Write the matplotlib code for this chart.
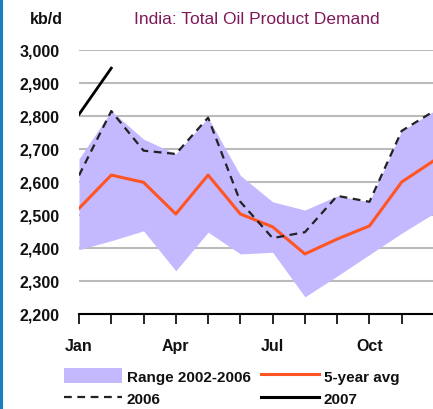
import matplotlib
matplotlib.use('Agg')
import matplotlib.pyplot as plt
from matplotlib.patches import Patch
from matplotlib.lines import Line2D
import numpy as np

# Data (kb/d)
months = ['Jan', 'Feb', 'Mar', 'Apr', 'May', 'Jun', 'Jul', 'Aug', 'Sep', 'Oct', 'Nov', 'Dec']
tick_labels = ['Jan', '', '', 'Apr', '', '', 'Jul', '', '', 'Oct', '', '']
range_low = [2395, 2422, 2452, 2331, 2448, 2382, 2387, 2252, 2315, 2380, 2445, 2505]
range_high = [2670, 2815, 2730, 2685, 2795, 2620, 2540, 2515, 2558, 2540, 2755, 2815]
avg_5yr = [2520, 2621, 2599, 2503, 2621, 2503, 2464, 2382, 2427, 2467, 2600, 2665]
y2006 = [2620, 2815, 2695, 2685, 2795, 2540, 2430, 2448, 2558, 2540, 2755, 2815]
y2007 = [2805, 2945]

plt.rcParams['font.family'] = ['Liberation Sans', 'DejaVu Sans']

fig = plt.figure(figsize=(4.33, 4.10), dpi=100)
ax = fig.add_axes([79/433, 1-315/410, (434-79)/433, (315-51)/410])

x = np.arange(len(months))
fill_col = '#c4b8ff'
avg_col = '#ff5522'

ax.fill_between(x, range_low, range_high, color=fill_col, lw=0, zorder=2)
ax.plot(x, avg_5yr, color=avg_col, lw=2.2, zorder=3)
ax.plot(x, y2006, color='#222222', lw=1.6, ls=(0, (3.5, 2.5)), zorder=4)
ax.plot(x[:len(y2007)], y2007, color='black', lw=2.0, zorder=5)

ax.set_xlim(0, 11)
ax.set_ylim(2200, 3000)
ax.set_yticks(np.arange(2200, 3001, 100))
ax.set_yticklabels(['{:,}'.format(v) for v in range(2200, 3001, 100)])
ax.set_xticks(x)
ax.set_xticklabels(tick_labels)

ax.grid(axis='y', color='#bbbbbb', lw=1.5, zorder=1)
ax.set_axisbelow(True)
for s in ['top', 'right', 'left']:
    ax.spines[s].set_visible(False)
ax.spines['bottom'].set_color('black')
ax.spines['bottom'].set_linewidth(1.5)
ax.spines['bottom'].set_zorder(6)
ax.tick_params(axis='y', length=0, pad=14, labelsize=11.5)
ax.tick_params(axis='x', direction='out', length=7, width=1.2, pad=10, labelsize=11.5)
for lbl in ax.get_xticklabels() + ax.get_yticklabels():
    lbl.set_fontweight('bold')
    lbl.set_color('#111111')

fig.text(46/433, 1-20/410, 'kb/d', ha='center', va='center', fontsize=11.5,
         fontweight='bold', color='#111111')
fig.text(257/433, 1-20/410, 'India: Total Oil Product Demand', ha='center', va='center',
         fontsize=12.5, color='#7f1a5a')

handles = [Patch(facecolor=fill_col, edgecolor='none'),
           Line2D([], [], color=avg_col, lw=2.2),
           Line2D([], [], color='#222222', lw=1.6, ls=(0, (3.5, 2.5))),
           Line2D([], [], color='black', lw=2.2)]
labels = ['Range 2002-2006', '5-year avg', '2006', '2007']
order = [0, 2, 1, 3]
leg = fig.legend([handles[i] for i in order], [labels[i] for i in order], ncol=2,
                 loc='upper left', bbox_to_anchor=(58/433, 1-363/410), frameon=False,
                 fontsize=11, handlelength=3.8, handleheight=1.1, handletextpad=0.3,
                 columnspacing=0.7, labelspacing=0.45, borderaxespad=0)
for t in leg.get_texts():
    t.set_fontweight('bold')
    t.set_color('#111111')

# blue frame edge on the left
fig.add_artist(Line2D([1/433, 1/433], [0, 1], color='#1a7fc0', lw=2.2, transform=fig.transFigure))

fig.savefig('out.png', dpi=100)
